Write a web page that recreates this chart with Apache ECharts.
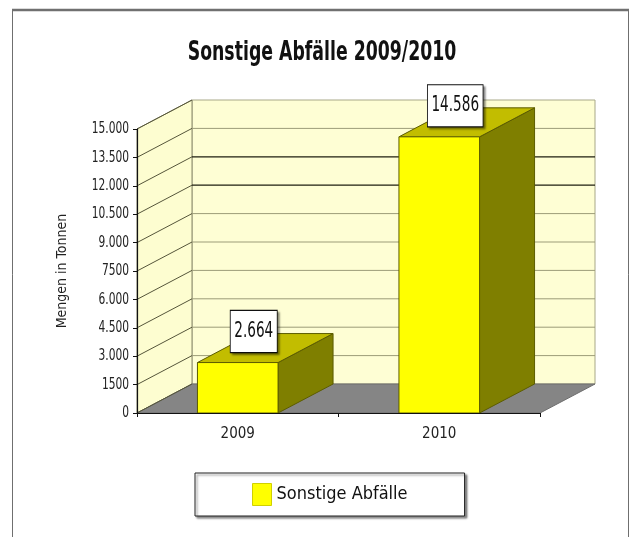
<!DOCTYPE html>
<html>
<head>
<meta charset="utf-8">
<title>Sonstige Abfälle 2009/2010</title>
<script src="https://cdn.jsdelivr.net/npm/echarts@6/dist/echarts.min.js"></script>
<style>
  html, body { margin: 0; padding: 0; background: #ffffff; }
  #chart { width: 632px; height: 537px; }
</style>
</head>
<body>
<div id="chart"></div>
<script>
// Yearly amounts of other waste (tonnes)
const categories = ['2009', '2010'];
const amounts = [2664, 14586];
const seriesName = 'Sonstige Abfälle';
const chartTitle = 'Sonstige Abfälle 2009/2010';

// Value axis ticks and their printed labels
const tickValues = [0, 1500, 3000, 4500, 6000, 7500, 9000, 10500, 12000, 13500, 15000];
const tickLabels = ['0', '1500', '3.000', '4.500', '6.000', '7500', '9.000', '10.500', '12.000', '13.500', '15.000'];

const FONT = '"Liberation Sans Narrow", "Arial Narrow", "DejaVu Sans Condensed", sans-serif';
const NARROW = 0.74;  // horizontal squeeze for the condensed lettering
const DEPTH_X = 55;   // oblique depth of the 3D box, px
const DEPTH_Y = -29;

function formatDE(v) {
  return String(Math.round(v)).replace(/\B(?=(\d{3})+(?!\d))/g, '.');
}

const chart = echarts.init(document.getElementById('chart'), null, { renderer: 'canvas' });

// Back wall, side wall and floor of the box
function renderWalls(params, api) {
  const cs = params.coordSys;
  const x0 = cs.x, x1 = cs.x + cs.width;
  const yTop = api.coord([0, tickValues[tickValues.length - 1]])[1];
  const yBot = api.coord([0, 0])[1];
  return {
    type: 'group',
    children: [
      {
        type: 'rect',
        shape: { x: x0 + DEPTH_X, y: yTop + DEPTH_Y, width: x1 - x0, height: yBot - yTop },
        style: { fill: '#fefed4', stroke: '#a8a888', lineWidth: 1 }
      },
      {
        type: 'polygon',
        shape: { points: [[x0, yTop], [x0 + DEPTH_X, yTop + DEPTH_Y], [x0 + DEPTH_X, yBot + DEPTH_Y], [x0, yBot]] },
        style: { fill: '#fdfdd0', stroke: '#8a8a6a', lineWidth: 1 }
      },
      {
        type: 'polygon',
        shape: { points: [[x0, yBot], [x1, yBot], [x1 + DEPTH_X, yBot + DEPTH_Y], [x0 + DEPTH_X, yBot + DEPTH_Y]] },
        style: { fill: '#858585', stroke: '#6e6e6e', lineWidth: 1 }
      }
    ]
  };
}

// Grid lines along the back wall and across the side wall, plus the tick label
function renderGridLine(params, api) {
  const cs = params.coordSys;
  const x0 = cs.x, x1 = cs.x + cs.width;
  const i = params.dataIndex;
  const v = api.value(0);
  const y = api.coord([0, v])[1];
  const dark = (v === 10500 || v === 12000);
  const children = [
    {
      type: 'line',
      shape: { x1: x0, y1: y, x2: x0 + DEPTH_X, y2: y + DEPTH_Y },
      style: { stroke: '#55553a', lineWidth: 1 }
    },
    {
      type: 'text',
      x: x0 - 8,
      y: y,
      scaleX: NARROW,
      style: {
        text: tickLabels[i],
        align: 'right',
        verticalAlign: 'middle',
        font: '16px ' + FONT,
        fill: '#222222'
      }
    }
  ];
  if (v > 0 && v < tickValues[tickValues.length - 1]) {
    children.push({
      type: 'line',
      shape: { x1: x0 + DEPTH_X, y1: y + DEPTH_Y, x2: x1 + DEPTH_X, y2: y + DEPTH_Y },
      style: { stroke: dark ? '#1e1e10' : '#9c9c78', lineWidth: dark ? 1.3 : 1 }
    });
  }
  return { type: 'group', children: children };
}

// 3D column: front face, right side, top, and boxed value label
function renderColumn(params, api) {
  const idx = api.value(0);
  const val = api.value(1);
  const base = api.coord([idx, 0]);
  const top = api.coord([idx, val]);
  const w = api.size([1, 0])[0] * 0.4;
  const xl = base[0] - w / 2, xr = base[0] + w / 2;
  const yb = base[1], yt = top[1];
  const edge = '#5c5c00';
  return {
    type: 'group',
    children: [
      {
        type: 'polygon',
        shape: { points: [[xr, yb], [xr + DEPTH_X, yb + DEPTH_Y], [xr + DEPTH_X, yt + DEPTH_Y], [xr, yt]] },
        style: { fill: '#7f7f00', stroke: edge, lineWidth: 1 }
      },
      {
        type: 'polygon',
        shape: { points: [[xl, yt], [xr, yt], [xr + DEPTH_X, yt + DEPTH_Y], [xl + DEPTH_X, yt + DEPTH_Y]] },
        style: { fill: '#c2bd00', stroke: edge, lineWidth: 1 }
      },
      {
        type: 'rect',
        shape: { x: xl, y: yt, width: w, height: yb - yt },
        style: { fill: '#ffff00', stroke: edge, lineWidth: 1 }
      },
      {
        type: 'text',
        x: base[0] + 16,
        y: yt - 31,
        scaleX: 0.72,
        style: {
          text: formatDE(val),
          align: 'center',
          verticalAlign: 'middle',
          font: '21px ' + FONT,
          fill: '#111111',
          backgroundColor: '#ffffff',
          borderColor: '#111111',
          borderWidth: 1.2,
          padding: [10, 5, 10, 5],
          shadowColor: 'rgba(0,0,0,0.35)',
          shadowOffsetX: 2,
          shadowOffsetY: 2,
          shadowBlur: 2
        }
      }
    ]
  };
}

const option = {
  animation: false,
  backgroundColor: '#ffffff',
  legend: {
    data: [{ name: seriesName, icon: 'rect', itemStyle: { color: '#ffff00', borderColor: '#d0d000', borderWidth: 1 } }],
    left: 195,
    top: 473,
    padding: [10, 57, 10, 57],
    itemWidth: 19,
    itemHeight: 22,
    itemGap: 6,
    backgroundColor: '#ffffff',
    borderColor: '#222222',
    borderWidth: 1,
    shadowColor: 'rgba(0,0,0,0.45)',
    shadowOffsetX: 2,
    shadowOffsetY: 2,
    shadowBlur: 2,
    textStyle: { fontFamily: FONT, fontSize: 18, color: '#111111' }
  },
  grid: { left: 137, right: 92, top: 129, bottom: 124, containLabel: false },
  xAxis: {
    type: 'category',
    data: categories,
    z: 6,
    axisLine: { lineStyle: { color: '#111111', width: 1 } },
    axisTick: { show: true, length: 4, lineStyle: { color: '#111111' } },
    axisLabel: { margin: 14, fontFamily: FONT, fontSize: 15, color: '#222222' },
    splitLine: { show: false }
  },
  yAxis: {
    type: 'value',
    min: 0,
    max: 15000,
    interval: 1500,
    z: 6,
    name: 'Mengen in Tonnen',
    nameLocation: 'middle',
    nameRotate: 90,
    nameGap: 68,
    nameTextStyle: { fontFamily: FONT, fontSize: 14, color: '#222222' },
    axisLine: { show: true, lineStyle: { color: '#111111', width: 1.2 } },
    axisTick: { show: true, length: 4, lineStyle: { color: '#111111' } },
    axisLabel: { show: false },
    splitLine: { show: false }
  },
  series: [
    {
      type: 'custom',
      name: 'walls',
      z: 1,
      silent: true,
      renderItem: renderWalls,
      data: [[0]],
      encode: { x: -1, y: -1 }
    },
    {
      type: 'custom',
      name: 'gridlines',
      z: 2,
      silent: true,
      renderItem: renderGridLine,
      data: tickValues.map(function (v) { return [v]; }),
      encode: { x: -1, y: -1 }
    },
    {
      type: 'custom',
      name: seriesName,
      z: 3,
      itemStyle: { color: '#ffff00' },
      renderItem: renderColumn,
      data: amounts.map(function (v, i) { return [i, v]; }),
      encode: { x: 0, y: 1 }
    }
  ],
  graphic: [
    {
      type: 'text',
      x: 322,
      y: 53,
      scaleX: NARROW,
      silent: true,
      style: {
        text: chartTitle,
        align: 'center',
        verticalAlign: 'middle',
        font: 'bold 26px ' + FONT,
        fill: '#111111'
      }
    },
    {
      type: 'rect',
      z: 100,
      silent: true,
      shape: { x: 12.5, y: 10.5, width: 616, height: 540 },
      style: { fill: 'none', stroke: '#6f6f6f', lineWidth: 1 }
    },
    {
      type: 'line',
      z: 100,
      silent: true,
      shape: { x1: 12, y1: 10, x2: 629, y2: 10 },
      style: { stroke: '#707070', lineWidth: 2.5 }
    }
  ]
};

chart.setOption(option);
</script>
</body>
</html>
